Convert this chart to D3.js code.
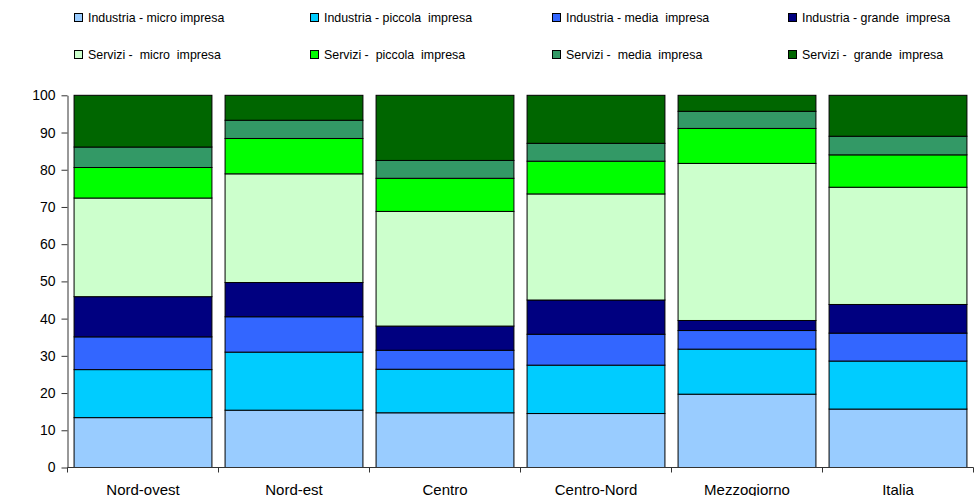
<!DOCTYPE html>
<html>
<head>
<meta charset="utf-8">
<script src="https://cdn.jsdelivr.net/npm/d3@7"></script>
<style>
  body { margin: 0; background: #fff; }
  text { font-family: "Liberation Sans", Arial, sans-serif; fill: #000; }
  .legend text { white-space: pre; }
</style>
</head>
<body>
<svg id="chart" width="975" height="496"></svg>
<script>
var width = 975;
var height = 496;

var regions = ['Nord-ovest', 'Nord-est', 'Centro', 'Centro-Nord', 'Mezzogiorno', 'Italia'];

var seriesNames = [
    'Industria - micro impresa',
    'Industria - piccola  impresa',
    'Industria - media  impresa',
    'Industria - grande  impresa',
    'Servizi -  micro  impresa',
    'Servizi -  piccola  impresa',
    'Servizi -  media  impresa',
    'Servizi -  grande  impresa'
];

var seriesColors = ['#99ccff', '#00ccff', '#3366ff', '#000080', '#ccffcc', '#00ff00', '#339966', '#006600'];

// one array per series, values in region order
var indMicro    = [13.4, 15.4, 14.7, 14.5, 19.7, 15.7];
var indPiccola  = [12.9, 15.6, 11.7, 13.0, 12.1, 12.9];
var indMedia    = [8.8, 9.5, 5.1, 8.3, 5.0, 7.5];
var indGrande   = [10.8, 9.2, 6.5, 9.2, 2.7, 7.7];
var servMicro   = [26.5, 29.2, 30.8, 28.5, 42.2, 31.5];
var servPiccola = [8.2, 9.5, 8.9, 8.8, 9.4, 8.7];
var servMedia   = [5.5, 4.9, 4.8, 4.8, 4.6, 5.0];
var servGrande  = [13.9, 6.7, 17.5, 12.9, 4.3, 11.0];

var yTicks = [0, 10, 20, 30, 40, 50, 60, 70, 80, 90, 100];

var allSeries = [indMicro, indPiccola, indMedia, indGrande, servMicro, servPiccola, servMedia, servGrande];

var rows = regions.map(function(r, i) {
    var row = { region: r };
    seriesNames.forEach(function(s, j) { row[s] = allSeries[j][i]; });
    return row;
});

var stacked = d3.stack().keys(seriesNames)(rows);

var margin = { left: 67.5, right: 1.5, top: 95.3, bottom: 28.5 };

var svg = d3.select('#chart');

var x = d3.scaleBand()
    .domain(regions)
    .range([margin.left, width - margin.right])
    .paddingInner(0.087)
    .paddingOuter(0.0435);

var xAxisScale = d3.scaleBand()
    .domain(regions)
    .range([margin.left, width - margin.right]);

var y = d3.scaleLinear()
    .domain([0, 100])
    .range([height - margin.bottom, margin.top]);

// bars
svg.append('g')
    .selectAll('g')
    .data(stacked)
    .join('g')
    .attr('fill', function(d, i) { return seriesColors[i]; })
    .selectAll('rect')
    .data(function(d) { return d; })
    .join('rect')
    .attr('x', function(d) { return x(d.data.region); })
    .attr('width', x.bandwidth())
    .attr('y', function(d) { return y(d[1]); })
    .attr('height', function(d) { return y(d[0]) - y(d[1]); })
    .attr('stroke', '#000')
    .attr('stroke-width', 1);

// y axis
var yAxis = svg.append('g')
    .attr('transform', 'translate(' + margin.left + ',0)')
    .call(d3.axisLeft(y).tickValues(yTicks).tickSize(6).tickPadding(6).tickSizeOuter(0));
yAxis.select('.domain').attr('stroke', '#333');
yAxis.selectAll('.tick line').attr('stroke', '#333');
yAxis.selectAll('.tick text')
    .style('font-size', '14px')
    .style('font-family', '"Liberation Sans", Arial, sans-serif');

// x axis: ticks between categories
var xg = svg.append('g')
    .attr('transform', 'translate(0,' + y(0) + ')');
xg.append('line')
    .attr('x1', margin.left).attr('x2', width - margin.right)
    .attr('stroke', '#333');
var bounds = regions.map(function(r) { return xAxisScale(r); });
bounds.push(width - margin.right);
xg.selectAll('line.tk')
    .data(bounds)
    .join('line')
    .attr('class', 'tk')
    .attr('x1', function(d) { return d; })
    .attr('x2', function(d) { return d; })
    .attr('y1', 0).attr('y2', 5)
    .attr('stroke', '#333');
xg.selectAll('text')
    .data(regions)
    .join('text')
    .attr('x', function(d) { return xAxisScale(d) + xAxisScale.bandwidth() / 2; })
    .attr('y', 27)
    .attr('text-anchor', 'middle')
    .style('font-size', '15px')
    .text(function(d) { return d; });

// legend, 4 columns x 2 rows
var legendX = [74, 310, 552, 788];
var legendY = [18, 55];
var legend = svg.append('g').attr('class', 'legend');
var items = legend.selectAll('g')
    .data(seriesNames)
    .join('g')
    .attr('transform', function(d, i) {
        return 'translate(' + legendX[i % 4] + ',' + legendY[Math.floor(i / 4)] + ')';
    });
items.append('rect')
    .attr('x', 0.5).attr('y', -4.5)
    .attr('width', 8).attr('height', 8)
    .attr('fill', function(d, i) { return seriesColors[i]; })
    .attr('stroke', '#000');
items.append('text')
    .attr('x', 14)
    .attr('y', 4)
    .style('font-size', '12.4px')
    .text(function(d) { return d; });
</script>
</body>
</html>
